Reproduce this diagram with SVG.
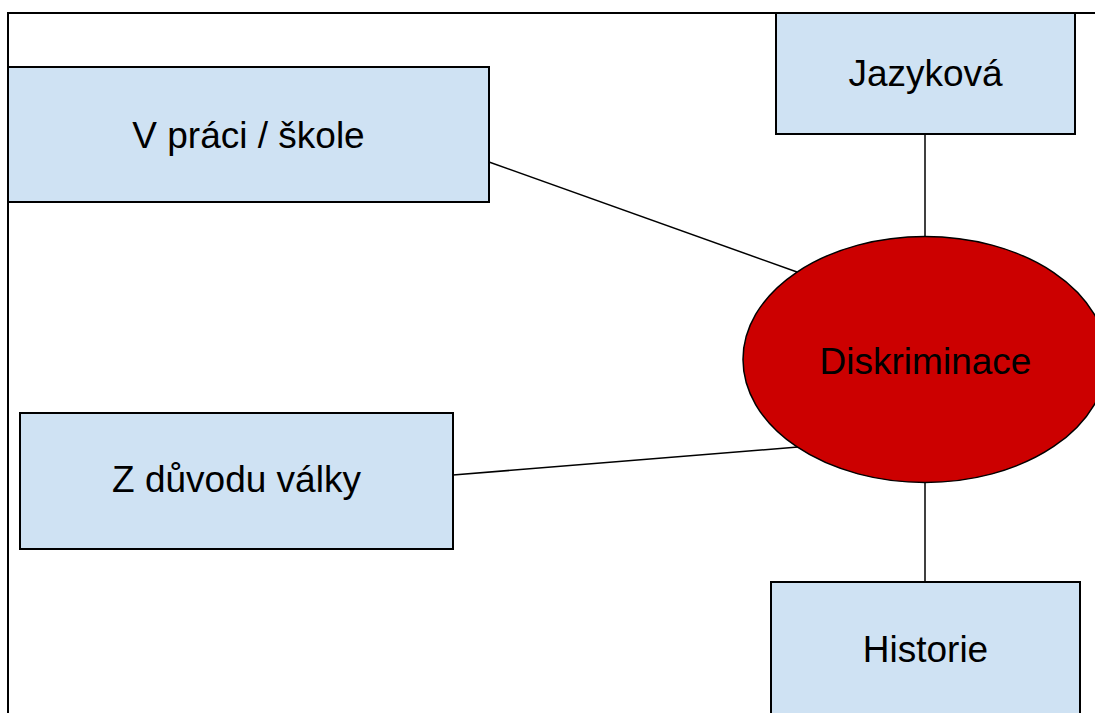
<svg xmlns="http://www.w3.org/2000/svg" width="1095" height="713" viewBox="0 0 1095 713">
  <style>
    .box { fill: #cfe2f3; stroke: #000; stroke-width: 2; }
    .hub { fill: #cc0000; stroke: #000; stroke-width: 1.5; }
    .link { stroke: #000; stroke-width: 1.5; fill: none; }
    .label { font-family: "Liberation Sans", Arial, sans-serif; font-size: 37px; fill: #000; text-anchor: middle; }
  </style>
  <rect width="1095" height="713" fill="#fff"/>
  <!-- page frame -->
  <path d="M8,713 V13 H1095" fill="none" stroke="#000" stroke-width="2"/>

  <g id="connectors">
    <line class="link" x1="489" y1="162" x2="797" y2="272"/>
    <line class="link" x1="453" y1="475" x2="798" y2="447"/>
    <line class="link" x1="925" y1="134" x2="925" y2="237"/>
    <line class="link" x1="925" y1="482" x2="925" y2="582"/>
  </g>

  <g id="node-prace">
    <rect class="box" x="8" y="67" width="481" height="135"/>
    <text class="label" x="248.5" y="147.5">V práci / škole</text>
  </g>

  <g id="node-valka">
    <rect class="box" x="20" y="413" width="433" height="136"/>
    <text class="label" x="236.5" y="492">Z důvodu války</text>
  </g>

  <g id="node-jazykova">
    <rect class="box" x="776" y="13" width="299" height="121"/>
    <text class="label" x="925.5" y="86">Jazyková</text>
  </g>

  <g id="node-historie">
    <rect class="box" x="771" y="582" width="309" height="140"/>
    <text class="label" x="925.5" y="662">Historie</text>
  </g>

  <g id="node-diskriminace">
    <ellipse class="hub" cx="925" cy="359.5" rx="182" ry="123"/>
    <text class="label" x="925.5" y="374">Diskriminace</text>
  </g>
</svg>
